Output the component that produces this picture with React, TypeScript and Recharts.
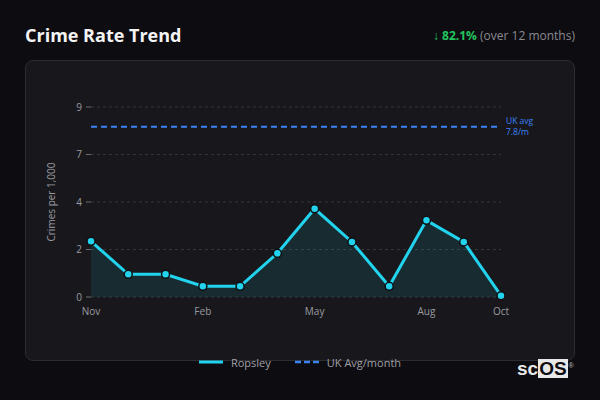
import React from 'react';
import { ComposedChart, Area, Line, XAxis, YAxis, CartesianGrid, Legend, ReferenceLine } from 'recharts';

const MONTHS = ['Nov', 'Dec', 'Jan', 'Feb', 'Mar', 'Apr', 'May', 'Jun', 'Jul', 'Aug', 'Sep', 'Oct'];
const ROPSLEY = [2.55, 1.04, 1.04, 0.49, 0.49, 2.0, 4.04, 2.52, 0.49, 3.51, 2.52, 0.06];
const UK_AVG = 7.8;
const Y_MAX = 8.7;
const Y_TICKS = [0, 2.175, 4.35, 6.525, 8.7];
const Y_TICK_LABELS = ['0', '2', '4', '7', '9'];
const X_TICKS = [0, 3, 6, 9, 11];

const data = MONTHS.map((m, i) => ({ i, month: m, ropsley: ROPSLEY[i], ukAvg: UK_AVG }));

const FONT = '"Open Sans", "Noto Sans", sans-serif';

const AvgLabel = (props: any) => {
  const vb = props.viewBox || {};
  const x = (vb.x || 0) + (vb.width || 0) + 5;
  const y = vb.y || 0;
  return (
    <g>
      <text x={x} y={y - 3} fill="#3b82f6" fontSize={8.5} fontFamily={FONT}>UK avg</text>
      <text x={x} y={y + 8.5} fill="#3b82f6" fontSize={8.5} fontFamily={FONT}>7.8/m</text>
    </g>
  );
};

const LegendContent = (props: any) => {
  const items = (props.payload || []).filter((p: any) => p.type !== 'none');
  return (
    <div style={{ display: 'flex', justifyContent: 'center', alignItems: 'center', height: 24, gap: 24, fontFamily: FONT, fontSize: 11 }}>
      {items.map((p: any) => (
        <div key={p.value} style={{ display: 'flex', alignItems: 'center', gap: 8 }}>
          <svg width={24} height={10}>
            <line x1={0} y1={5} x2={24} y2={5} stroke={p.color} strokeWidth={p.payload?.strokeDasharray ? 2.5 : 3} strokeDasharray={p.payload?.strokeDasharray ? '6 3' : undefined} />
          </svg>
          <span style={{ color: '#a0a0a6' }}>{p.value}</span>
        </div>
      ))}
    </div>
  );
};

export default function App() {
  return (
    <div style={{ position: 'fixed', left: 0, top: 0, width: 600, height: 400, background: '#0d0c11', fontFamily: FONT, overflow: 'hidden' }}>
      <div style={{ position: 'absolute', left: 25, top: 23, fontSize: 18, fontWeight: 700, color: '#f4f4f5' }}>Crime Rate Trend</div>
      <div style={{ position: 'absolute', right: 25, top: 27, fontSize: 12, color: '#8a8a90' }}>
        <span style={{ color: '#22c55e', fontWeight: 700 }}>↓ 82.1%</span> (over 12 months)
      </div>
      <div style={{ position: 'absolute', left: 25, top: 60, width: 548, height: 299, background: '#18181c', border: '1px solid #2c2c31', borderRadius: 8 }} />
      <div style={{ position: 'absolute', left: 25, top: 60 }}>
        <ComposedChart width={550} height={320} data={data} margin={{ top: 47, right: 74, bottom: 0, left: 0 }}>
          <CartesianGrid vertical={false} stroke="#34343a" strokeDasharray="3 3" />
          <XAxis
            type="number"
            dataKey="i"
            domain={[0, 11]}
            ticks={X_TICKS}
            tickFormatter={(v: number) => MONTHS[v]}
            axisLine={false}
            tickLine={false}
            tickMargin={5}
            tick={{ fill: '#9a9aa0', fontSize: 10, fontFamily: FONT }}
            height={59}
          />
          <YAxis
            domain={[0, Y_MAX]}
            ticks={Y_TICKS}
            tickFormatter={(v: number) => Y_TICK_LABELS[Y_TICKS.indexOf(v)]}
            axisLine={false}
            tickLine={{ stroke: '#6a6a70' }}
            tickSize={5}
            tickMargin={4}
            width={66}
            tick={{ fill: '#9a9aa0', fontSize: 10, fontFamily: FONT }}
            label={{ value: 'Crimes per 1,000', angle: -90, position: 'insideLeft', offset: 26, fill: '#9a9aa0', fontSize: 10, fontFamily: FONT, style: { textAnchor: 'middle' } }}
          />
          <Area
            dataKey="ropsley"
            type="linear"
            stroke="none"
            fill="#22d3ee"
            fillOpacity={0.1}
            legendType="none"
            isAnimationActive={false}
          />
          <Line
            dataKey="ukAvg"
            name="UK Avg/month"
            type="linear"
            stroke="#3b82f6"
            strokeWidth={2}
            strokeDasharray="6 4"
            dot={false}
            legendType="plainline"
            isAnimationActive={false}
          />
          <ReferenceLine y={UK_AVG} stroke="none" label={<AvgLabel />} />
          <Line
            dataKey="ropsley"
            name="Ropsley"
            type="linear"
            stroke="#22d3ee"
            strokeWidth={3}
            dot={{ r: 4, fill: '#22d3ee', stroke: '#0f0f12', strokeWidth: 1.5 }}
            legendType="plainline"
            isAnimationActive={false}
          />
          <Legend
            verticalAlign="bottom"
            content={<LegendContent />}
            wrapperStyle={{ bottom: 6, left: 0, width: 550 }}
          />
        </ComposedChart>
      </div>
      <div style={{ position: 'absolute', left: 517, top: 359, height: 19, display: 'flex', alignItems: 'center', fontFamily: '"Liberation Sans", Arial, sans-serif', fontWeight: 700, fontSize: 19, lineHeight: '19px' }}>
        <span style={{ color: '#e8e8e8' }}>sc</span>
        <span style={{ background: '#e8e8e8', color: '#0d0c11', padding: '0 1px' }}>OS</span>
        <span style={{ position: 'absolute', right: -6, top: -3, fontSize: 7, color: '#bbb', fontWeight: 400 }}>®</span>
      </div>
    </div>
  );
}
